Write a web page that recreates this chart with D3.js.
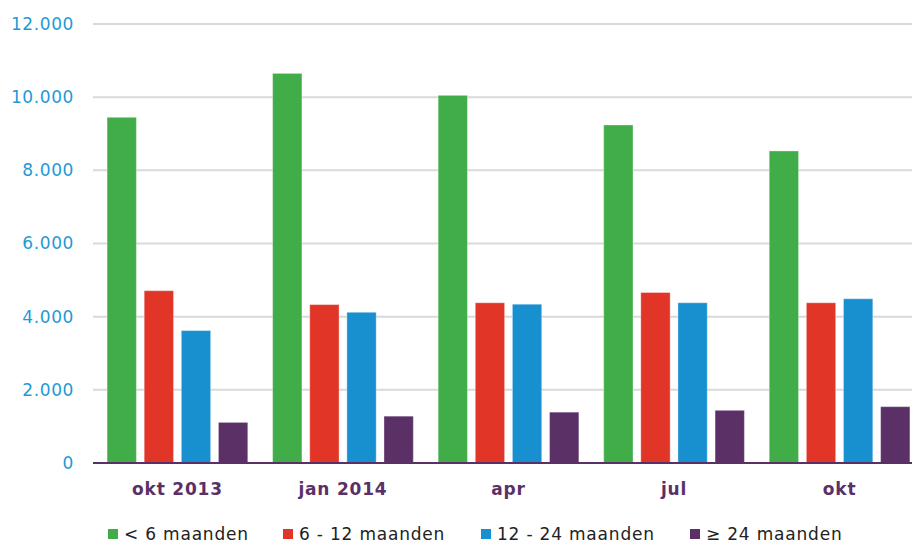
<!DOCTYPE html>
<html>
<head>
<meta charset="utf-8">
<script src="https://cdn.jsdelivr.net/npm/d3@7"></script>
<style>
  body { margin: 0; background: #fff; }
  svg { font-family: "DejaVu Sans", Verdana, sans-serif; }
</style>
</head>
<body>
<svg width="912" height="544"></svg>
<script>
// data
var periods = ["okt 2013", "jan 2014", "apr", "jul", "okt"];
var seriesNames = ["< 6 maanden", "6 - 12 maanden", "12 - 24 maanden", "\u2265 24 maanden"];
var lt6 = [9450, 10650, 10050, 9240, 8530];
var m6to12 = [4710, 4330, 4380, 4660, 4380];
var m12to24 = [3620, 4120, 4340, 4380, 4490];
var ge24 = [1110, 1280, 1390, 1440, 1540];
var yTicks = [0, 2000, 4000, 6000, 8000, 10000, 12000];
var colors = ["#41ad49", "#e03527", "#1890d0", "#5a3066"];

var values = [lt6, m6to12, m12to24, ge24];
var data = periods.map(function (p, i) {
    return { period: p, vals: values.map(function (s, k) { return { key: seriesNames[k], value: s[i] }; }) };
});

var svg = d3.select("svg"),
    plotLeft = 93, plotRight = 912, plotTop = 24, plotBottom = 463;

// groups run a little past the right edge of the grid, like the original
var x0 = d3.scaleBand()
    .domain(periods)
    .range([plotLeft, 924])
    .paddingInner(0.15)
    .paddingOuter(0.085);

var x1 = d3.scaleBand()
    .domain(seriesNames)
    .range([0, x0.bandwidth()])
    .paddingInner(0.21);

var y = d3.scaleLinear()
    .domain([0, 12000])
    .range([plotBottom, plotTop]);

var z = d3.scaleOrdinal().domain(seriesNames).range(colors);

// grid
svg.append("g")
    .selectAll("line")
    .data(yTicks.filter(function (d) { return d > 0; }))
    .enter().append("line")
    .attr("x1", plotLeft).attr("x2", plotRight)
    .attr("y1", function (d) { return y(d); })
    .attr("y2", function (d) { return y(d); })
    .attr("stroke", "#d9d9d9")
    .attr("stroke-width", 2);

// y axis labels
var fmt = function (d) { return d3.format(",")(d).replace(/,/g, "."); };
var axisY = svg.append("g")
    .attr("transform", "translate(" + (plotLeft - 19) + ",0)")
    .call(d3.axisLeft(y).tickValues(yTicks).tickFormat(fmt).tickSize(0).tickPadding(0));
axisY.select(".domain").remove();
axisY.selectAll("text")
    .attr("fill", "#1f9ad6")
    .attr("font-size", 17)
    .attr("letter-spacing", 0.6)
    .attr("font-family", "DejaVu Sans, Verdana, sans-serif");

// bars
var groups = svg.append("g")
    .selectAll("g")
    .data(data)
    .enter().append("g")
    .attr("transform", function (d) { return "translate(" + x0(d.period) + ",0)"; });

groups.selectAll("rect")
    .data(function (d) { return d.vals; })
    .enter().append("rect")
    .attr("x", function (d) { return x1(d.key); })
    .attr("y", function (d) { return y(d.value); })
    .attr("width", x1.bandwidth())
    .attr("height", function (d) { return y(0) - y(d.value); })
    .attr("fill", function (d) { return z(d.key); })
    .attr("stroke", "rgba(255,255,255,0.35)")
    .attr("stroke-width", 1);

// x axis
var axisX = svg.append("g")
    .attr("transform", "translate(0," + plotBottom + ")")
    .call(d3.axisBottom(x0).tickSize(0).tickPadding(20));
axisX.select(".domain")
    .attr("stroke", "#5a3066")
    .attr("stroke-width", 2)
    .attr("d", "M" + plotLeft + ",0H" + plotRight);
axisX.selectAll("text")
    .attr("fill", "#5a3066")
    .attr("font-size", 17)
    .attr("letter-spacing", 0.8)
    .attr("font-weight", "bold")
    .attr("font-family", "DejaVu Sans, Verdana, sans-serif");

// legend
var legendX = [108, 283, 481, 690];
var legend = svg.append("g")
    .selectAll("g")
    .data(seriesNames)
    .enter().append("g")
    .attr("transform", function (d, i) { return "translate(" + legendX[i] + ",529)"; });

legend.append("rect")
    .attr("width", 10)
    .attr("height", 10)
    .attr("fill", z);

legend.append("text")
    .attr("x", 16)
    .attr("y", 5)
    .attr("dy", "0.35em")
    .attr("font-size", 17)
    .attr("letter-spacing", 0.8)
    .attr("fill", "#222")
    .text(function (d) { return d; });
</script>
</body>
</html>
